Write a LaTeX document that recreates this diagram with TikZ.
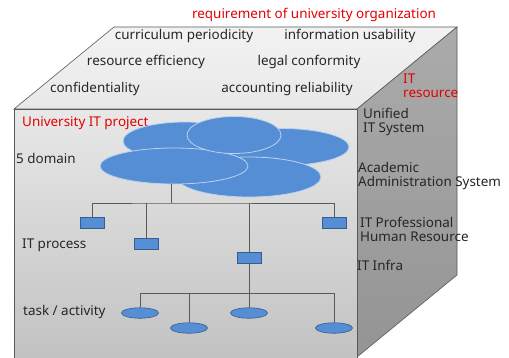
\documentclass[tikz,border=0pt]{standalone}
\usepackage{fontspec}
\setmainfont{Noto Sans}
\usetikzlibrary{shapes.geometric}
\begin{document}
\begin{tikzpicture}[x=1bp,y=-1bp,
  lbl/.style={font=\fontsize{13.5}{14}\selectfont, text=black!85, inner sep=0pt},
  redlbl/.style={lbl, text=red!90!black},
  cloud/.style={fill=blob, draw=blob!40!white, line width=0.8bp},
  box/.style={draw=boxedge, fill=blob, minimum width=24bp, minimum height=11bp, inner sep=0pt, line width=0.6bp},
  leaf/.style={ellipse, draw=boxedge, fill=blob, minimum width=37bp, minimum height=10.5bp, inner sep=0pt, line width=0.6bp},
  wire/.style={draw=black!65, line width=0.7bp}]
\definecolor{blob}{RGB}{85,142,213}
\definecolor{boxedge}{RGB}{56,93,138}
\useasboundingbox (0,0) rectangle (509,357);
% cube faces
\shade[top color=black!5, bottom color=black!9, draw=black!65, line width=0.6bp]
  (14,109) -- (114,27) -- (457,27) -- (357,109) -- cycle;
\shade[top color=black!33, bottom color=black!42, draw=black!65, line width=0.6bp]
  (357,109) -- (457,27) -- (457,275) -- (357,357) -- cycle;
\shade[top color=black!9, bottom color=black!24, draw=black!65, line width=0.6bp]
  (14,109) rectangle (357,360);
% labels on the top face
\node[redlbl] (req) at (314,15) {requirement of university organization};
\node[lbl] (cur) at (184,36) {curriculum periodicity};
\node[lbl] (inf) at (350,36) {information usability};
\node[lbl] (res) at (146,62) {resource efficiency};
\node[lbl] (leg) at (309,62) {legal conformity};
\node[lbl] (con) at (95,89) {confidentiality};
\node[lbl] (acc) at (287,89) {accounting reliability};
\node[redlbl, anchor=west, align=left] (itr) at (403,86) {IT\\resource};
% labels beside the side face
\node[lbl, anchor=west, align=left] (uni) at (363,122) {Unified\\IT System};
\node[lbl, anchor=west, align=left] (aca) at (358,176) {Academic\\Administration System};
\node[lbl, anchor=west, align=left] (pro) at (360,229) {IT Professional\\Human Resource};
\node[lbl, anchor=west] (inr) at (357,265) {IT Infra};
% labels on the front face
\node[redlbl, anchor=west] (prj) at (22,123) {University IT project};
\node[lbl, anchor=west] (dom) at (16,158) {5 domain};
\node[lbl, anchor=west] (prc) at (22,245) {IT process};
\node[lbl, anchor=west] (tsk) at (23,312) {task / activity};
% the five domains
\path[cloud] (282,147) ellipse [x radius=67, y radius=18.5];
\path[cloud] (249,177) ellipse [x radius=72, y radius=20];
\path[cloud] (185,141) ellipse [x radius=62, y radius=19];
\path[cloud] (174,166) ellipse [x radius=74, y radius=18];
\path[cloud] (234,135) ellipse [x radius=47, y radius=18.5];
\coordinate (dm) at (171,184);
\coordinate (bar) at (171,203);
% IT processes
\node[box] (p1) at (92,223) {};
\node[box] (p2) at (146,244) {};
\node[box] (p3) at (249,258) {};
\node[box] (p4) at (334,223) {};
\path[wire] (dm) -- (bar);
\path[wire] (p1.north) |- (bar) -| (p4.north);
\path[wire] (p2.north) -- (p2.north |- bar);
\path[wire] (p3.north) -- (p3.north |- bar);
% tasks
\node[leaf] (t1) at (140,313) {};
\node[leaf] (t2) at (189,328) {};
\node[leaf] (t3) at (249,313) {};
\node[leaf] (t4) at (334,328) {};
\coordinate (tb) at (249,293);
\path[wire] (p3.south) -- (t3.north);
\path[wire] (t1.north) |- (tb) -| (t4.north);
\path[wire] (t2.north) -- (t2.north |- tb);
\end{tikzpicture}
\end{document}
